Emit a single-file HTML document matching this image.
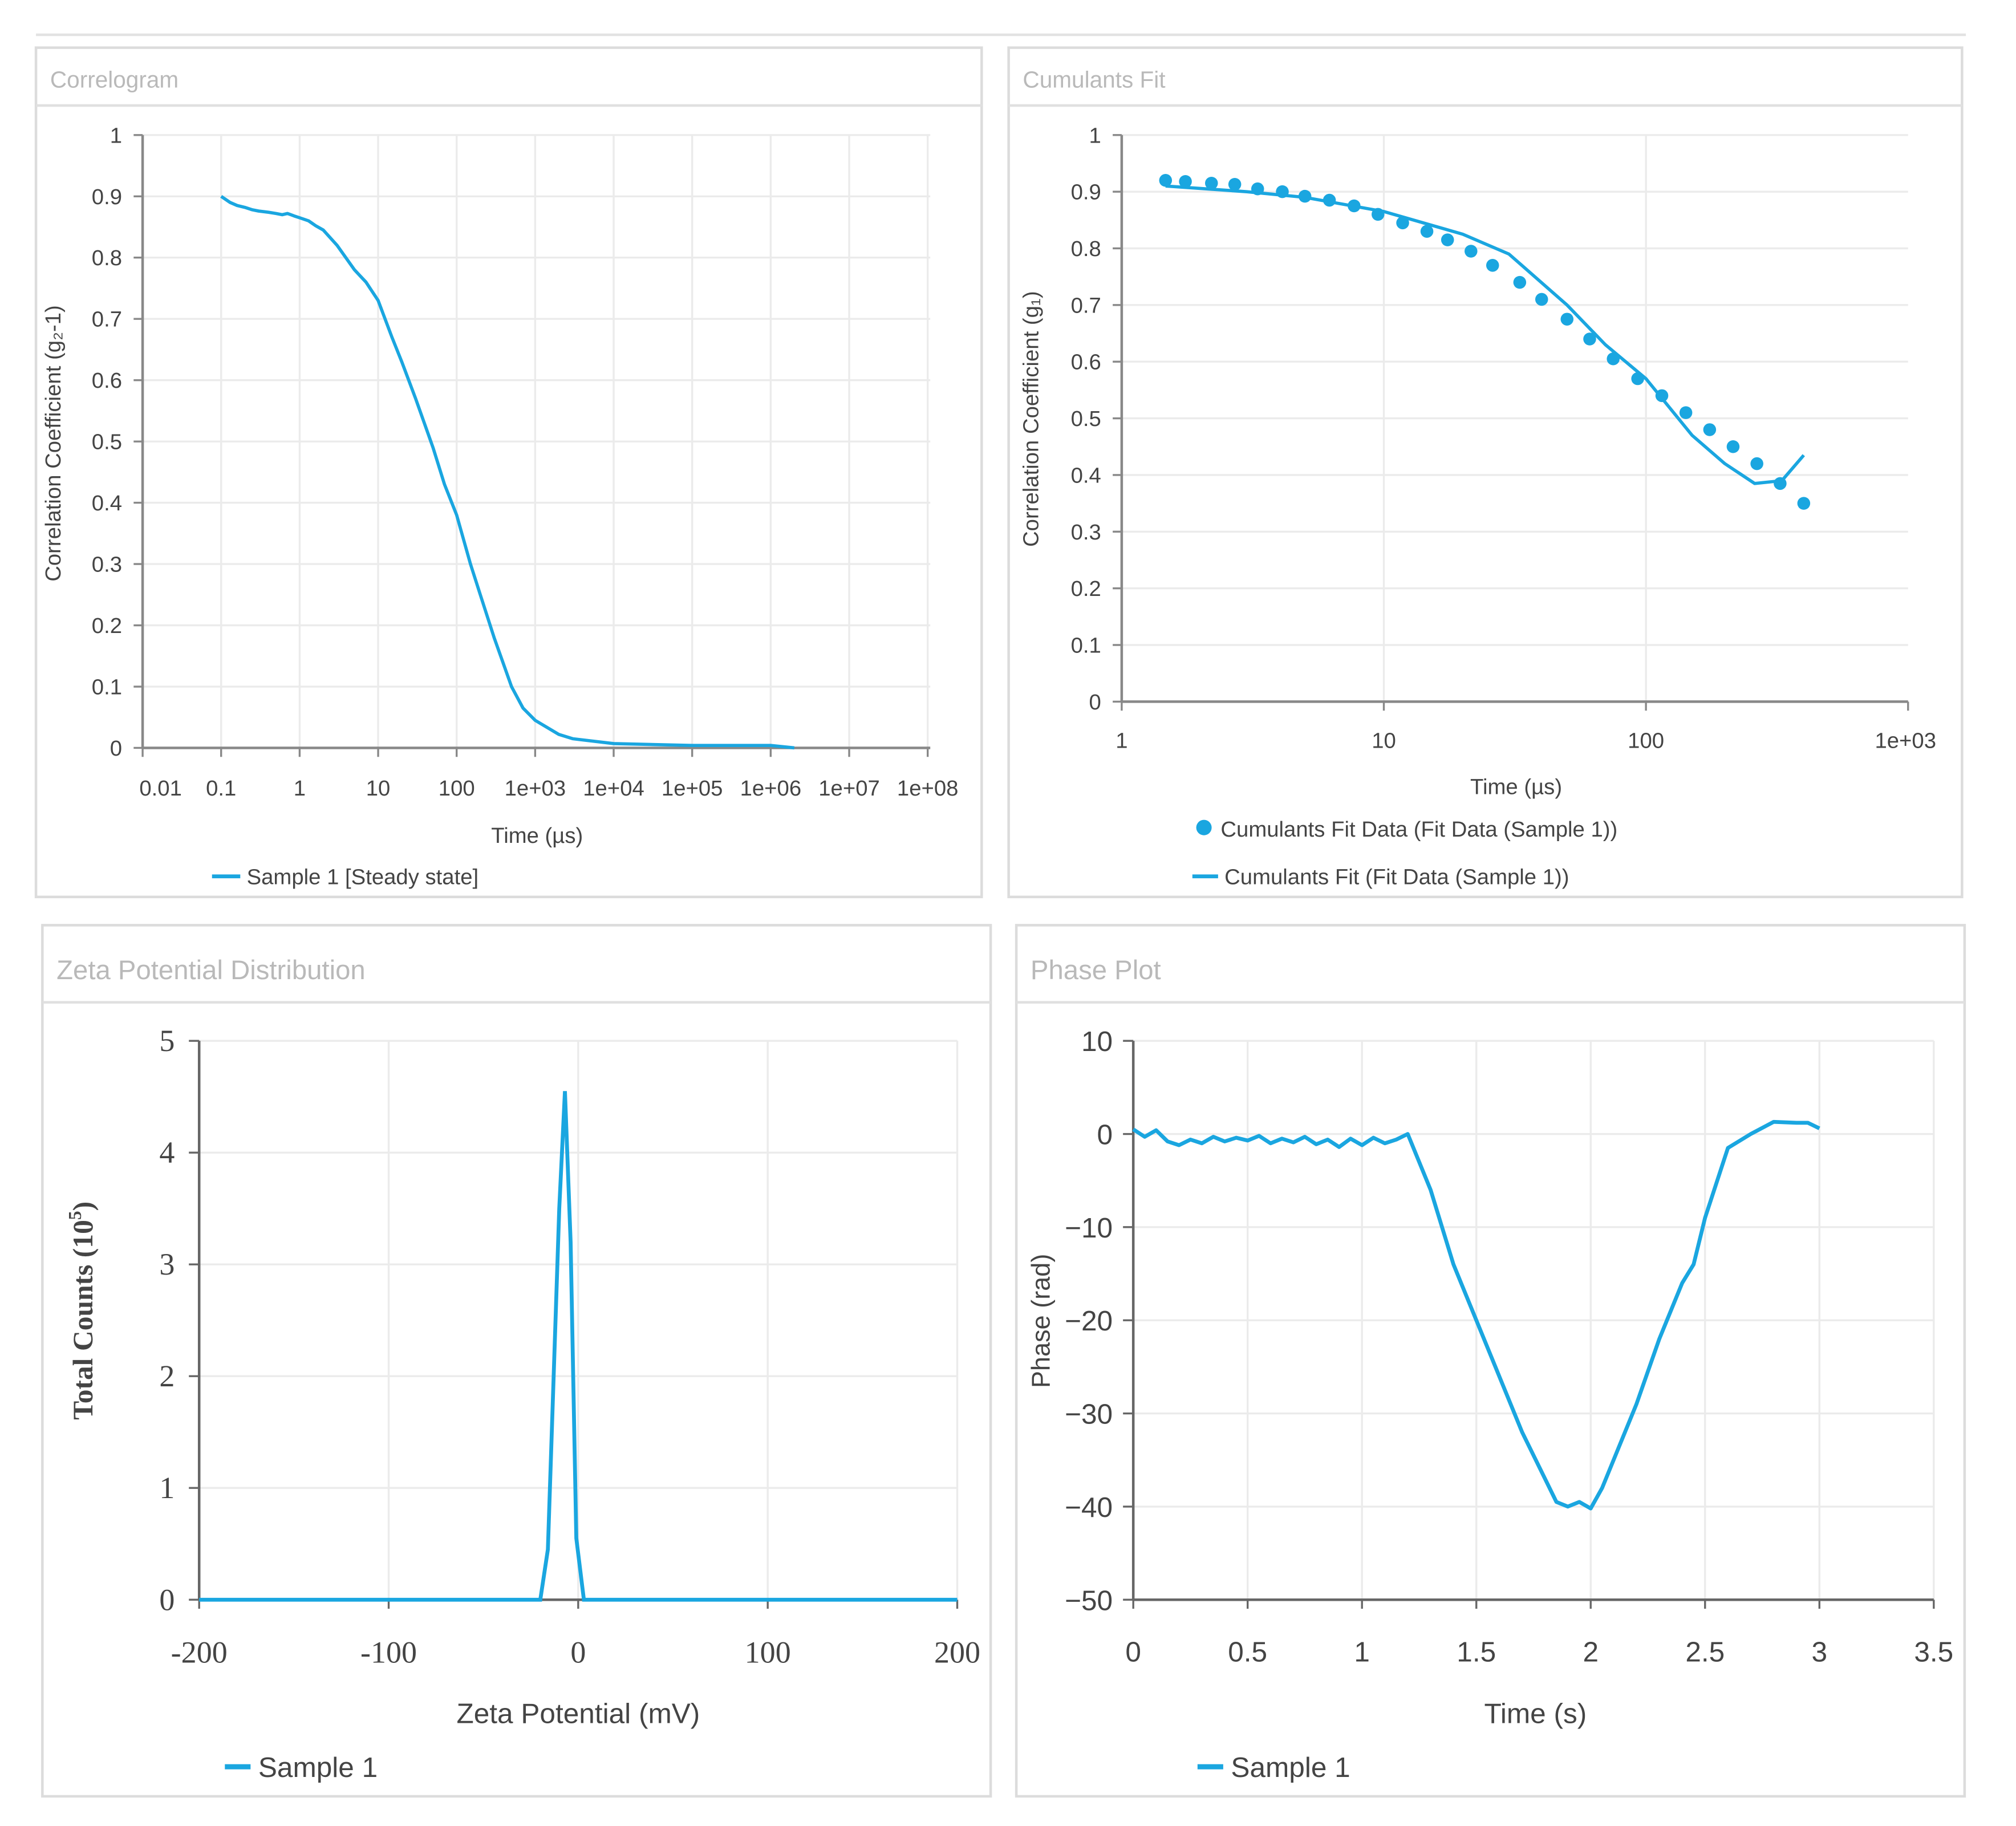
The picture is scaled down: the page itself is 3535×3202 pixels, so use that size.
<!DOCTYPE html>
<html><head><meta charset="utf-8"><style>
html,body{margin:0;padding:0;background:#fff;}
svg{display:block;}
text{font-family:"Liberation Sans",sans-serif;}
.serif{font-family:"Liberation Serif",serif;}
</style></head><body>
<svg id="root" width="3535" height="3202" viewBox="0 0 1569 1421" xmlns="http://www.w3.org/2000/svg">
<line x1="28" y1="27" x2="1530" y2="27" stroke="#e2e2e2" stroke-width="2"/>
</svg>
<script>
// ---- Data ----
const corrTimes=[0.1,0.13,0.16,0.2,0.25,0.3,0.4,0.5,0.6,0.7,0.85,1,1.3,1.6,2,3,5,7,10,15,20,30,50,70,100,150,200,300,500,700,1000,2000,3000,10000,100000,1000000,2000000];
const corrValues=[0.9,0.89,0.885,0.882,0.878,0.876,0.874,0.872,0.87,0.872,0.868,0.865,0.86,0.852,0.845,0.82,0.78,0.76,0.73,0.67,0.63,0.57,0.49,0.43,0.38,0.3,0.25,0.18,0.1,0.065,0.045,0.022,0.015,0.007,0.004,0.004,0.0];
const corrXTicks=["0.01","0.1","1","10","100","1e+03","1e+04","1e+05","1e+06","1e+07","1e+08"];
const fitDataTimes=[1.47,1.75,2.2,2.7,3.3,4.1,5.0,6.2,7.7,9.5,11.8,14.6,17.5,21.5,26,33,40,50,61,75,93,115,142,175,215,265,325,400];
const fitDataValues=[0.92,0.918,0.915,0.913,0.905,0.9,0.892,0.885,0.875,0.86,0.845,0.83,0.815,0.795,0.77,0.74,0.71,0.675,0.64,0.605,0.57,0.54,0.51,0.48,0.45,0.42,0.385,0.35];
const fitLineTimes=[1.47,3,5,10,20,30,50,70,100,150,200,260,330,400];
const fitLineValues=[0.91,0.9,0.89,0.865,0.825,0.79,0.7,0.63,0.57,0.47,0.42,0.385,0.39,0.435];
const cumXTicks=["1","10","100","1e+03"];
const zetaX=[-200,-20,-16,-10,-7,-4,-1,3,200];
const zetaY=[0,0,0.45,3.5,4.55,3.2,0.55,0,0];
const zetaXTicks=[-200,-100,0,100,200];
const phaseT=[0,0.05,0.1,0.15,0.2,0.25,0.3,0.35,0.4,0.45,0.5,0.55,0.6,0.65,0.7,0.75,0.8,0.85,0.9,0.95,1.0,1.05,1.1,1.15,1.2,1.3,1.4,1.5,1.6,1.7,1.8,1.85,1.9,1.95,2.0,2.05,2.1,2.2,2.3,2.4,2.45,2.5,2.6,2.7,2.8,2.9,2.95,3.0];
const phaseV=[0.5,-0.3,0.4,-0.8,-1.2,-0.6,-1.0,-0.3,-0.8,-0.4,-0.7,-0.2,-1.0,-0.5,-0.9,-0.3,-1.1,-0.6,-1.4,-0.5,-1.2,-0.4,-1.0,-0.6,0,-6,-14,-20,-26,-32,-37,-39.5,-40,-39.5,-40.2,-38,-35,-29,-22,-16,-14,-9,-1.5,0,1.3,1.2,1.2,0.6];
const phaseXTicks=[0,0.5,1,1.5,2,2.5,3,3.5];
const phaseYTicks=[10,0,-10,-20,-30,-40,-50];

const NS="http://www.w3.org/2000/svg";
const root=document.getElementById('root');
const BLUE="#1aa6e0";
function mk(tag,attrs,parent,txt){const e=document.createElementNS(NS,tag);for(const k in attrs)e.setAttribute(k,attrs[k]);if(txt!==undefined)e.textContent=txt;(parent||root).appendChild(e);return e;}
function panel(x,y,w,h,title,name,tsize){
  const g=mk('g',{});
  
  
  const r=mk('rect',{x:x,y:y,width:w,height:h,fill:'#fff',stroke:'#dcdcdc','stroke-width':2},g);
  
  
  const l=mk('line',{x1:x,y1:y+45+(tsize>19?15:0),x2:x+w,y2:y+45+(tsize>19?15:0),stroke:'#e0e0e0','stroke-width':2},g);
  
  
  const t=mk('text',{x:x+11,y:y+(tsize>19?42:31),'font-size':tsize,fill:'#b9b9b9'},g,title);
  
  
  return g;
}
function T(g,x,y,s,txt,anchor,name,extra){const t=mk('text',Object.assign({x:x,y:y,'font-size':s,fill:'#444','text-anchor':anchor||'middle'},extra||{}),g,txt);
  
  
  return t;}
function L(g,x1,y1,x2,y2,c,w,name){const l=mk('line',{x1:x1,y1:y1,x2:x2,y2:y2,stroke:c,'stroke-width':w},g);
  
  
  return l;}

// ---- Panel 1: Correlogram ----
{
const g=panel(28,37,736,661,'Correlogram','correlogram-panel',18);
const X0=111,DEC=61.1,Y0=582,Y1=105;
const sx=v=>X0+(Math.log10(v)+2)*DEC, sy=v=>Y0-(Y0-Y1)*v;
for(let i=0;i<=10;i++){const y=sy(i/10);L(g,111,y,724,y,'#ebebeb',1.5,'h-gridline');L(g,104,y,111,y,'#888',1.5,'y-tick');T(g,95,y+6,17,(i===0||i===10)?String(i/10):(i/10).toFixed(1),'end','y-tick-label');}
corrXTicks.forEach((lab,i)=>{const x=X0+i*DEC;if(i>0)L(g,x,105,x,582,'#ebebeb',1.5,'v-gridline');L(g,x,582,x,589,'#888',1.5,'x-tick');T(g,i===0?125:x,619,17,lab,'middle','x-tick-label');});
L(g,111,105,111,582,'#888',2,'y-axis');L(g,111,582,724,582,'#888',2,'x-axis');
T(g,418,656,17,'Time (µs)','middle','x-axis-title');
T(g,0,0,17,'Correlation Coefficient (g₂-1)','middle','y-axis-title',{transform:'translate(47,345) rotate(-90)'});
const p=mk('polyline',{points:corrTimes.map((t,i)=>sx(t)+','+sy(corrValues[i])).join(' '),fill:'none',stroke:BLUE,'stroke-width':2.5,'stroke-linejoin':'round'},g);


L(g,165,682,187,682,BLUE,3,'legend-swatch');T(g,192,688,17,'Sample 1 [Steady state]','start','legend-entry');
}
// ---- Panel 2: Cumulants Fit ----
{
const g=panel(785,37,742,661,'Cumulants Fit','cumulants-fit-panel',18);
const X0=873,DEC=204,Y0=546,Y1=105;
const sx=v=>X0+Math.log10(v)*DEC, sy=v=>Y0-(Y0-Y1)*v;
for(let i=0;i<=10;i++){const y=sy(i/10);if(i>0)L(g,873,y,1485,y,'#ebebeb',1.5,'h-gridline');L(g,866,y,873,y,'#888',1.5,'y-tick');T(g,857,y+6,17,(i===0||i===10)?String(i/10):(i/10).toFixed(1),'end','y-tick-label');}
cumXTicks.forEach((lab,i)=>{const x=X0+i*DEC;if(i>0&&i<3)L(g,x,105,x,546,'#ebebeb',1.5,'v-gridline');L(g,x,546,x,553,'#888',1.5,'x-tick');T(g,i===3?x-2:x,582,17,lab,'middle','x-tick-label');});
L(g,873,105,873,546,'#888',2,'y-axis');L(g,873,546,1485,546,'#888',2,'x-axis');
T(g,1180,618,17,'Time (µs)','middle','x-axis-title');
T(g,0,0,17,'Correlation Coefficient (g₁)','middle','y-axis-title',{transform:'translate(808,326) rotate(-90)'});
const p=mk('polyline',{points:fitLineTimes.map((t,i)=>sx(t)+','+sy(fitLineValues[i])).join(' '),fill:'none',stroke:BLUE,'stroke-width':2.5,'stroke-linejoin':'round'},g);


fitDataTimes.forEach((t,i)=>{const c=mk('circle',{cx:sx(t),cy:sy(fitDataValues[i]),r:5,fill:BLUE},g);

});
const lc=mk('circle',{cx:937,cy:644,r:6,fill:BLUE},g);


T(g,950,651,17,'Cumulants Fit Data (Fit Data (Sample 1))','start','legend-entry-data');
L(g,928,682,948,682,BLUE,3,'legend-swatch');T(g,953,688,17,'Cumulants Fit (Fit Data (Sample 1))','start','legend-entry-fit');
}
// ---- Panel 3: Zeta Potential ----
{
const g=panel(33,720,738,678,'Zeta Potential Distribution','zeta-potential-panel',21);
const sx=v=>155+(v+200)/400*590, sy=v=>1245-v/5*435;
for(let i=0;i<=5;i++){const y=sy(i);if(i>0)L(g,155,y,745,y,'#ebebeb',1.5,'h-gridline');L(g,147,y,155,y,'#666',1.5,'y-tick');T(g,136,y+8,24,String(i),'end','y-tick-label',{'class':'serif'});}
zetaXTicks.forEach(v=>{const x=sx(v);if(v>-200)L(g,x,810,x,1245,'#ebebeb',1.5,'v-gridline');L(g,x,1245,x,1252,'#666',1.5,'x-tick');T(g,x,1294,24,String(v),'middle','x-tick-label',{'class':'serif'});});
L(g,155,810,155,1245,'#666',2,'y-axis');L(g,155,1245,745,1245,'#666',2,'x-axis');
T(g,450,1341,22,'Zeta Potential (mV)','middle','x-axis-title');
const yt=T(g,0,0,22,'Total Counts (10','middle','y-axis-title',{transform:'translate(72,1020) rotate(-90)','class':'serif','font-weight':'bold'});
const sup=mk('tspan',{'font-size':14,dy:-9},yt,'5');


const cl=mk('tspan',{dy:9},yt,')');


const p=mk('polyline',{points:zetaX.map((v,i)=>sx(v)+','+sy(zetaY[i])).join(' '),fill:'none',stroke:BLUE,'stroke-width':3},g);


L(g,175,1375,195,1375,BLUE,4,'legend-swatch');T(g,201,1383,22,'Sample 1','start','legend-entry');
}
// ---- Panel 4: Phase Plot ----
{
const g=panel(791,720,738,678,'Phase Plot','phase-plot-panel',21);
const sx=v=>882+v/3.5*623, sy=v=>810+(10-v)/60*435;
phaseYTicks.forEach(v=>{const y=sy(v);if(v!==-50)L(g,882,y,1505,y,'#ebebeb',1.5,'h-gridline');L(g,874,y,882,y,'#666',1.5,'y-tick');T(g,866,y+8,22,String(v).replace('-','−'),'end','y-tick-label');});
phaseXTicks.forEach(v=>{const x=sx(v);if(v>0)L(g,x,810,x,1245,'#ebebeb',1.5,'v-gridline');L(g,x,1245,x,1252,'#666',1.5,'x-tick');T(g,x,1293,22,String(v),'middle','x-tick-label');});
L(g,882,810,882,1245,'#666',2,'y-axis');L(g,882,1245,1505,1245,'#666',2,'x-axis');
T(g,1195,1341,22,'Time (s)','middle','x-axis-title');
T(g,0,0,20,'Phase (rad)','middle','y-axis-title',{transform:'translate(817,1028) rotate(-90)'});
const p=mk('polyline',{points:phaseT.map((t,i)=>sx(t)+','+sy(phaseV[i])).join(' '),fill:'none',stroke:BLUE,'stroke-width':3,'stroke-linejoin':'round'},g);


L(g,932,1375,952,1375,BLUE,4,'legend-swatch');T(g,958,1383,22,'Sample 1','start','legend-entry');
}
</script>
</body></html>
